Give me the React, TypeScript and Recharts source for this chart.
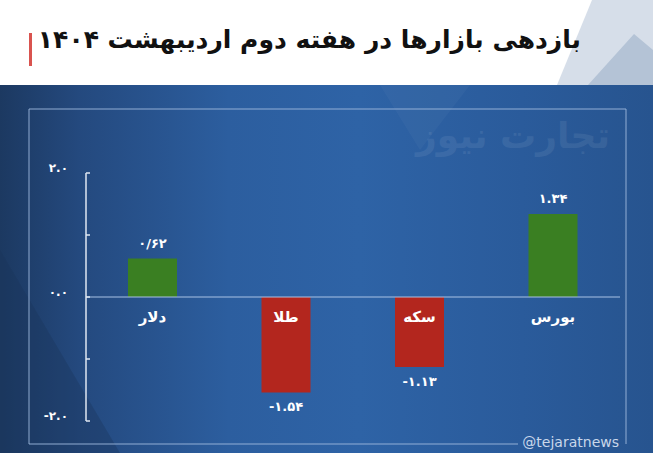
import { BarChart, Bar, YAxis, XAxis, ReferenceLine, Cell, LabelList } from 'recharts';

const markets = ['دلار', 'طلا', 'سکه', 'بورس'];
const returns = [0.62, -1.54, -1.13, 1.34];
const valueLabels = ['۰/۶۲', '-۱.۵۴', '-۱.۱۳', '۱.۳۴'];
const yTicks = [-2, -1, 0, 1, 2];
const yTickLabels: Record<string, string> = { '2': '۲.۰', '0': '۰.۰', '-2': '-۲.۰' };

const data = markets.map((name, i) => ({ name, value: returns[i], label: valueLabels[i] }));

const GREEN = '#3a7f22';
const RED = '#b3261e';
const FONT = '"DejaVu Sans", sans-serif';

function AxisTick(props: any) {
  const { x, y, payload } = props;
  const txt = yTickLabels[String(payload.value)];
  return (
    <g>
      <line x1={x} y1={y} x2={x + 4} y2={y} stroke="#dfe7f2" strokeWidth={1.5} />
      {txt && (
        <text x={x - 18} y={y} dy={-1} textAnchor="end" fill="#ffffff" fontSize={12} fontWeight="bold" fontFamily={FONT}>
          {txt}
        </text>
      )}
    </g>
  );
}

function BarLabels(props: any) {
  const { x, y, width, height, index } = props;
  const d = data[index];
  const top = Math.min(y, y + height);
  const bottom = Math.max(y, y + height);
  const zeroY = d.value >= 0 ? bottom : top;
  const cx = x + width / 2;
  return (
    <g fontFamily={FONT}>
      <text x={cx} y={zeroY + 25} textAnchor="middle" fill="#ffffff" fontSize={15} fontWeight="bold">
        {d.name}
      </text>
      <text
        x={cx}
        y={d.value >= 0 ? top - 11 : bottom + 19}
        textAnchor="middle"
        fill="#ffffff"
        fontSize={13}
        fontWeight="bold"
      >
        {d.label}
      </text>
    </g>
  );
}

export default function App() {
  return (
    <div style={{ position: 'absolute', left: 0, top: 0, width: 653, height: 453, overflow: 'hidden', background: '#ffffff' }}>
      {/* header */}
      <svg width={653} height={85} style={{ position: 'absolute', left: 0, top: 0 }}>
        <polygon points="557,85 592,0 653,0 653,85" fill="#d6dee9" />
        <polygon points="588,85 634,34 653,50 653,85" fill="#b4c3d6" />
        <rect x={29} y={33} width={3} height={33} fill="#d9534f" />
      </svg>
      <div
        style={{
          position: 'absolute',
          right: 72,
          top: 25,
          direction: 'rtl',
          fontFamily: FONT,
          fontWeight: 'bold',
          fontSize: 25,
          color: '#111',
          whiteSpace: 'nowrap',
        }}
      >
        بازدهی بازارها در هفته دوم اردیبهشت ۱۴۰۴
      </div>
      {/* blue panel */}
      <div
        style={{
          position: 'absolute',
          left: 0,
          top: 85,
          width: 653,
          height: 368,
          background: 'linear-gradient(90deg, #1c3961 0%, #24497e 12%, #2c5e9f 35%, #2e63a6 55%, #2a5b9b 80%, #27548f 100%)',
        }}
      />
      <svg width={653} height={453} style={{ position: 'absolute', left: 0, top: 0 }}>
        <polygon points="0,250 0,453 120,453" fill="#1a3458" opacity={0.35} />
        <polygon points="380,85 470,85 420,150" fill="#ffffff" opacity={0.03} />
        <text x={610} y={148} textAnchor="end" fill="#ffffff" opacity={0.07} fontSize={36} fontWeight="bold" fontFamily={FONT}>
          تجارت نیوز
        </text>
        <path d="M518,444 L29,444 L29,109 L626,109 L626,444" fill="none" stroke="#9db8dd" strokeWidth={1} opacity={0.9} />
        <text x={619} y={447} textAnchor="end" fill="#c9d7ea" fontSize={14} fontFamily={FONT}>
          @tejaratnews
        </text>
      </svg>
      <div style={{ position: 'absolute', left: 0, top: 0 }}>
        <BarChart width={653} height={453} data={data} margin={{ top: 173, right: 33, bottom: 32, left: 26 }}>
          <XAxis dataKey="name" hide />
          <YAxis
            width={60}
            domain={[-2, 2]}
            ticks={yTicks}
            interval={0}
            tickLine={false}
            tickSize={0}
            tickMargin={0}
            axisLine={{ stroke: '#dfe7f2', strokeWidth: 1.5 }}
            tick={<AxisTick />}
          />
          <ReferenceLine y={0} stroke="#a9c2e4" strokeWidth={1} />
          <Bar dataKey="value" barSize={49} isAnimationActive={false}>
            {data.map((d) => (
              <Cell key={d.name} fill={d.value >= 0 ? GREEN : RED} />
            ))}
            <LabelList dataKey="value" content={<BarLabels />} />
          </Bar>
        </BarChart>
      </div>
    </div>
  );
}
